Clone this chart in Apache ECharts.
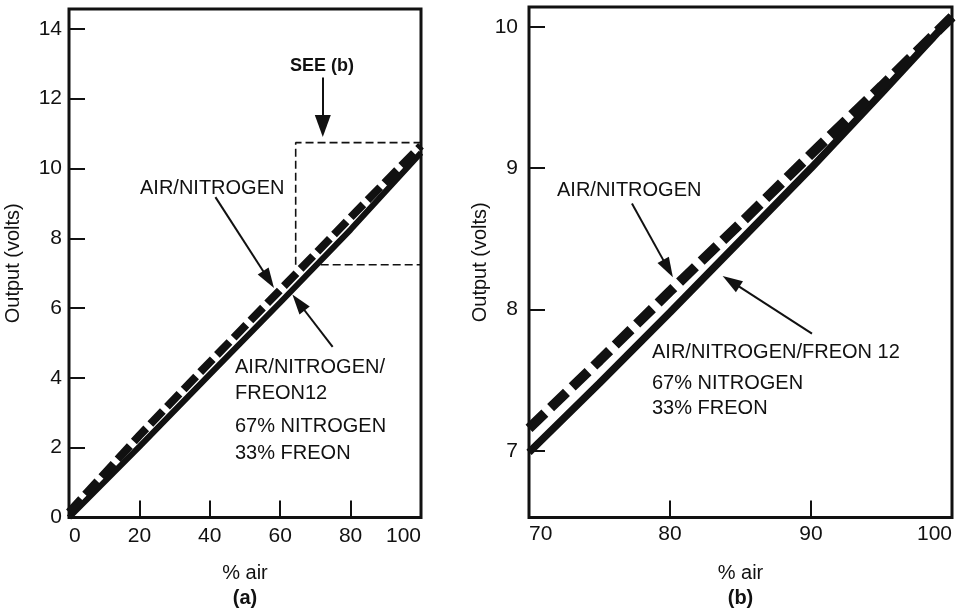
<!DOCTYPE html>
<html><head><meta charset="utf-8">
<script src="https://cdn.jsdelivr.net/npm/echarts@6/dist/echarts.min.js"></script>
<style>html,body{margin:0;padding:0;background:#fff}#c{width:962px;height:613px}</style>
</head><body><div id="c"></div>
<script>
// ---- data ----
const xA = [0, 20, 40, 60, 80, 100];
const dashedA = [0.15, 2.35, 4.45, 6.52, 8.6, 10.65];  // AIR/NITROGEN (a)
const solidA = [0, 2.03, 4.1, 6.16, 8.25, 10.45];      // AIR/NITROGEN/FREON12 (a)
const xB = [70, 75, 80, 85, 90, 95, 100];
const dashedB = [7.16, 7.64, 8.13, 8.61, 9.1, 9.58, 10.07];
const solidB = [6.99, 7.48, 7.98, 8.49, 9.0, 9.53, 10.07];
const boxUpper = [[64.4, 7.24], [64.4, 10.74], [100, 10.74]];
const boxLower = [[71.5, 7.24], [100, 7.24]];
const arrowsA = [[[72.1, 12.61], [72.1, 11.22]], [[41.6, 9.18], [56.7, 6.82]], [[74.9, 4.89], [65.2, 6.16]]];
const arrowsB = [[[77.3, 8.75], [79.86, 8.29]], [[90.07, 7.83], [84.33, 8.2]]];
const ticksAx = {min: 0, max: 100, values: [0, 20, 40, 60, 80, 100]};
const ticksAy = {min: 0, max: 14.57, values: [0, 2, 4, 6, 8, 10, 12, 14]};
const ticksBx = {min: 70, max: 100, values: [70, 80, 90, 100]};
const ticksBy = {min: 6.53, max: 10.14, values: [7, 8, 9, 10]};

const FONT = 'Liberation Sans';
const INK = '#111';
const pair = (xs, ys) => xs.map((x, i) => [x, ys[i]]);

function arrowLines(list, sizes) {
  return list.map((a, i) => [
    {coord: a[0], symbol: 'none'},
    {coord: a[1], symbol: 'triangle', symbolSize: sizes[i]}
  ]);
}

function xAxis(gi, t, margin) {
  return {
    type: 'value', gridIndex: gi, min: t.min, max: t.max,
    name: '{n|% air}\n{b|(' + (gi === 0 ? 'a' : 'b') + ')}',
    nameLocation: 'middle', nameGap: 43, nameMoveOverlap: false,
    nameTextStyle: {rich: {
      n: {fontFamily: FONT, fontSize: 20, color: INK, lineHeight: 25},
      b: {fontFamily: FONT, fontSize: 20, fontWeight: 'bold', color: INK, lineHeight: 25}
    }},
    axisLine: {show: false},
    axisTick: {inside: true, length: 17, lineStyle: {color: INK, width: 2}, customValues: t.values},
    axisLabel: {fontFamily: FONT, fontSize: 21, color: INK, margin: margin,
      alignMinLabel: 'left', alignMaxLabel: 'right', customValues: t.values},
    splitLine: {show: false}
  };
}
function yAxis(gi, t, margin, gap) {
  return {
    type: 'value', gridIndex: gi, min: t.min, max: t.max,
    name: 'Output (volts)', nameLocation: 'middle', nameGap: gap, nameMoveOverlap: false,
    nameTextStyle: {fontFamily: FONT, fontSize: 20, color: INK},
    axisLine: {show: false},
    axisTick: {inside: true, length: 16, lineStyle: {color: INK, width: 2}, customValues: t.values},
    axisLabel: {fontFamily: FONT, fontSize: 21, color: INK, margin: margin, customValues: t.values},
    splitLine: {show: false}
  };
}

const arrowStyle = {color: INK, width: 2, type: 'solid'};

const option = {
  animation: false,
  backgroundColor: '#fff',
  grid: [
    {left: 69, right: 541, top: 9, bottom: 91, show: true, borderColor: INK, borderWidth: 3},
    {left: 529, right: 10, top: 7, bottom: 93, show: true, borderColor: INK, borderWidth: 3}
  ],
  xAxis: [xAxis(0, ticksAx, 8), xAxis(1, ticksBx, 6)],
  yAxis: [yAxis(0, ticksAy, 7, 46), yAxis(1, ticksBy, 11, 39)],
  series: [
    {type: 'line', xAxisIndex: 0, yAxisIndex: 0, data: boxUpper, symbol: 'none', z: 1,
     lineStyle: {color: INK, width: 1.6, type: [8, 4]}, silent: true},
    {type: 'line', xAxisIndex: 0, yAxisIndex: 0, data: boxLower, symbol: 'none', z: 1,
     lineStyle: {color: INK, width: 1.6, type: [8, 4]}, silent: true,
     markLine: {silent: true, symbol: ['none', 'triangle'], label: {show: false},
       lineStyle: arrowStyle, data: arrowLines(arrowsA, [[16, 22], [13, 20], [13, 20]])}},
    {type: 'line', xAxisIndex: 0, yAxisIndex: 0, data: pair(xA, solidA), symbol: 'none', z: 3,
     lineStyle: {color: INK, width: 6}},
    {type: 'line', xAxisIndex: 0, yAxisIndex: 0, data: pair(xA, dashedA), symbol: 'none', z: 4,
     lineStyle: {color: INK, width: 8, type: [18, 6], cap: 'butt'}},
    {type: 'line', xAxisIndex: 1, yAxisIndex: 1, data: pair(xB, solidB), symbol: 'none', z: 3,
     lineStyle: {color: INK, width: 7.5},
     markLine: {silent: true, symbol: ['none', 'triangle'], label: {show: false},
       lineStyle: arrowStyle, data: arrowLines(arrowsB, [[13, 20], [13, 20]])}},
    {type: 'line', xAxisIndex: 1, yAxisIndex: 1, data: pair(xB, dashedB), symbol: 'none', z: 4,
     lineStyle: {color: INK, width: 10, type: [22, 8], cap: 'butt'}}
  ],
  graphic: [
    {type: 'text', left: 290, top: 57, style: {text: 'SEE (b)', font: 'bold 18px "Liberation Sans"', fill: INK}},
    {type: 'text', left: 140, top: 178, style: {text: 'AIR/NITROGEN', font: '20px "Liberation Sans"', fill: INK}},
    {type: 'text', left: 235, top: 357, style: {text: 'AIR/NITROGEN/', font: '20px "Liberation Sans"', fill: INK}},
    {type: 'text', left: 235, top: 383, style: {text: 'FREON12', font: '20px "Liberation Sans"', fill: INK}},
    {type: 'text', left: 235, top: 416, style: {text: '67% NITROGEN', font: '20px "Liberation Sans"', fill: INK}},
    {type: 'text', left: 235, top: 443, style: {text: '33% FREON', font: '20px "Liberation Sans"', fill: INK}},
    {type: 'text', left: 557, top: 180, style: {text: 'AIR/NITROGEN', font: '20px "Liberation Sans"', fill: INK}},
    {type: 'text', left: 652, top: 342, style: {text: 'AIR/NITROGEN/FREON 12', font: '20px "Liberation Sans"', fill: INK}},
    {type: 'text', left: 652, top: 373, style: {text: '67% NITROGEN', font: '20px "Liberation Sans"', fill: INK}},
    {type: 'text', left: 652, top: 398, style: {text: '33% FREON', font: '20px "Liberation Sans"', fill: INK}}
  ]
};
const chart = echarts.init(document.getElementById('c'), null, {renderer: 'canvas'});
chart.setOption(option);
</script>
</body></html>
